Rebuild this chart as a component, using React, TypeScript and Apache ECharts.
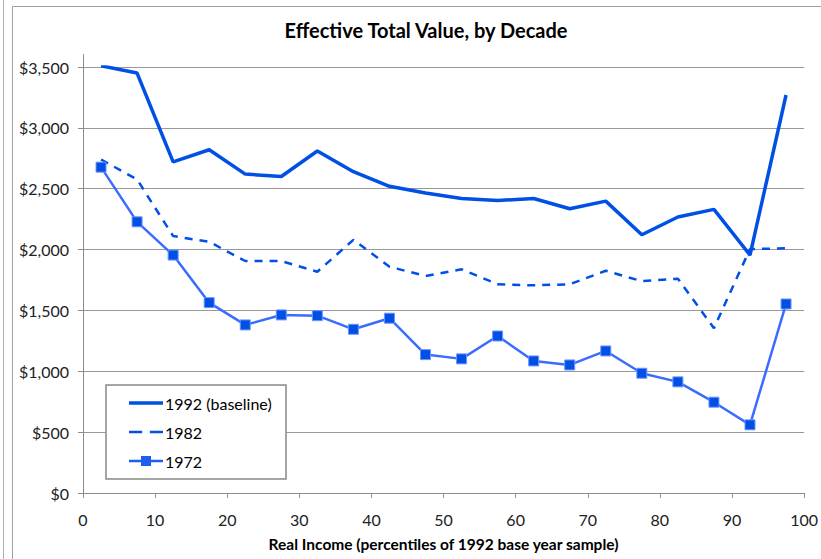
import React, { useEffect, useRef } from "react";
import * as echarts from "echarts";

const percentiles = [2.5, 7.5, 12.5, 17.5, 22.5, 27.5, 32.5, 37.5, 42.5, 47.5, 52.5, 57.5, 62.5, 67.5, 72.5, 77.5, 82.5, 87.5, 92.5, 97.5];
const v1992 = [3510, 3450, 2720, 2820, 2620, 2600, 2810, 2640, 2520, 2465, 2420, 2403, 2420, 2335, 2398, 2122, 2268, 2330, 1955, 3270];
const v1982 = [2740, 2576, 2111, 2064, 1906, 1906, 1818, 2080, 1859, 1783, 1838, 1715, 1706, 1715, 1826, 1740, 1761, 1354, 2005, 2010];
const v1972 = [2677, 2228, 1955, 1564, 1381, 1463, 1457, 1345, 1436, 1137, 1102, 1290, 1085, 1052, 1167, 984, 913, 746, 560, 1553];
const seriesNames = ["1992 (baseline)", "1982", "1972"];
const xTicks = [0, 10, 20, 30, 40, 50, 60, 70, 80, 90, 100];

const pair = (vals: number[]) => vals.map((v, i) => [percentiles[i], v]);

export default function App() {
  const ref = useRef<HTMLDivElement>(null);
  useEffect(() => {
    if (!ref.current) return;
    const chart = echarts.init(ref.current, null, { renderer: "svg" });
    const font = "Lato, 'Open Sans', sans-serif";
    const gray = "#8c8c8c";
    chart.setOption({
      animation: false,
      backgroundColor: "#ffffff",
      textStyle: { fontFamily: font },
      title: {
        text: "Effective Total Value, by Decade",
        left: 421,
        top: 15,
        textAlign: "center",
        textStyle: { fontFamily: font, fontSize: 20, fontWeight: "bold", color: "#000" },
      },
      grid: { left: 83, right: 10, top: 67, bottom: 66, containLabel: false },
      xAxis: {
        type: "value",
        min: xTicks[0],
        max: xTicks[xTicks.length - 1],
        interval: 10,
        name: "Real Income (percentiles of 1992 base year sample)",
        nameLocation: "middle",
        nameGap: 43,
        nameTextStyle: { fontFamily: font, fontSize: 15.5, fontWeight: "bold", color: "#000" },
        axisLine: { show: true, lineStyle: { color: gray, width: 1 } },
        axisTick: { show: true, length: 5, lineStyle: { color: gray } },
        axisLabel: { fontFamily: font, fontSize: 16, color: "#222", margin: 18 },
        splitLine: { show: false },
      },
      yAxis: {
        type: "value",
        min: 0,
        max: 3500,
        interval: 500,
        axisLine: { show: true, lineStyle: { color: gray, width: 1 } },
        axisTick: { show: true, length: 5, lineStyle: { color: gray } },
        axisLabel: {
          fontFamily: font,
          fontSize: 16,
          color: "#222",
          margin: 14,
          formatter: (v: number) => "$" + v.toLocaleString("en-US"),
        },
        splitLine: { show: true, lineStyle: { color: "#999", width: 1 } },
      },
      legend: {
        orient: "vertical",
        left: 129,
        top: 395,
        z: 20,
        itemWidth: 34,
        itemHeight: 10,
        itemGap: 13,
        padding: 0,
        symbolKeepAspect: true,
        textStyle: { fontFamily: font, fontSize: 16, color: "#000", padding: [0, 0, 0, -3] },
        data: [
          { name: seriesNames[0], icon: "path://M0,0h34v3.5h-34z", itemStyle: { color: "#0050e6", borderWidth: 0 } },
          { name: seriesNames[1], icon: "path://M0,0h12v2.5h-12z M19,0h12v2.5h-12z", itemStyle: { color: "#0050e6", borderWidth: 0 } },
          { name: seriesNames[2], icon: "path://M0,3.75h34v2.5h-34z M12,0h10v10h-10z", itemStyle: { color: "#1f5cf0", borderWidth: 0 } },
        ],
      },
      graphic: [
        { type: "line", shape: { x1: 3.5, y1: 0, x2: 3.5, y2: 559 }, style: { stroke: "#b0b0b0", lineWidth: 1 }, silent: true },
        { type: "line", shape: { x1: 12.5, y1: 6.5, x2: 12.5, y2: 559 }, style: { stroke: "#a0a0a0", lineWidth: 1 }, silent: true },
        { type: "line", shape: { x1: 12.5, y1: 6.5, x2: 821, y2: 6.5 }, style: { stroke: "#a0a0a0", lineWidth: 1 }, silent: true },
        { type: "line", shape: { x1: 83.5, y1: 54, x2: 83.5, y2: 67 }, style: { stroke: gray, lineWidth: 1 }, silent: true },
        {
          type: "rect",
          shape: { x: 106, y: 385, width: 180, height: 94 },
          style: { fill: "#ffffff", stroke: "#888888", lineWidth: 1.5 },
          z: 3,
          silent: true,
        },
      ],
      series: [
        {
          name: seriesNames[0],
          type: "line",
          data: pair(v1992),
          symbol: "none",
          lineStyle: { color: "#0050e6", width: 3.5 },
          itemStyle: { color: "#0050e6" },
          z: 3,
        },
        {
          name: seriesNames[1],
          type: "line",
          data: pair(v1982),
          symbol: "none",
          lineStyle: { color: "#0050e6", width: 2.5, type: [8, 7] },
          itemStyle: { color: "#0050e6" },
          z: 2,
        },
        {
          name: seriesNames[2],
          type: "line",
          data: pair(v1972),
          symbol: "rect",
          symbolSize: 10,
          lineStyle: { color: "#3a6cff", width: 2.5 },
          itemStyle: { color: "#0050e6", borderColor: "#6f95ff", borderWidth: 1 },
          z: 4,
        },
      ],
    });
    return () => chart.dispose();
  }, []);
  return (
    <div
      ref={ref}
      style={{ position: "fixed", left: 0, top: 0, width: 821, height: 559 }}
    />
  );
}
